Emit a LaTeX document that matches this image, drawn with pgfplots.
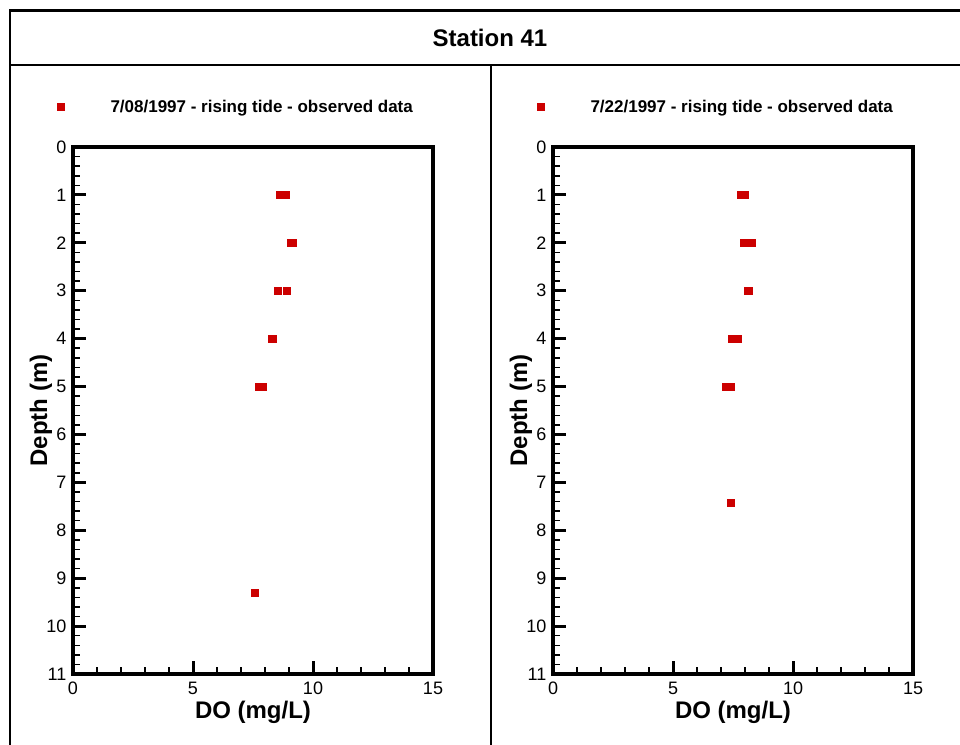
\documentclass[border=0pt]{standalone}
\usepackage{fontspec}
\setmainfont{Liberation Sans}
\usepackage{pgfplots}
\pgfplotsset{compat=1.18}

\definecolor{obsred}{RGB}{204,0,0}

% observed DO profiles: DO (mg/L), depth (m)
\pgfplotstableread{
do    depth
8.60  1.00
8.85  1.00
9.06  2.00
9.15  2.00
8.52  3.00
8.90  3.00
8.27  4.00
8.31  4.00
7.73  5.00
7.90  5.00
7.56  9.30
}\juleight

\pgfplotstableread{
do    depth
7.81  1.00
7.98  1.00
7.94  2.00
8.27  2.00
8.10  3.00
8.15  3.00
7.44  4.00
7.69  4.00
7.19  5.00
7.40  5.00
7.40  7.42
}\jultwentytwo

\pgfplotsset{
  profile/.style={
    scale only axis, width=360pt, height=527pt,
    xmin=0, xmax=15, ymin=0, ymax=11, y dir=reverse,
    xtick={0,5,10,15}, ytick={0,1,...,11},
    minor x tick num=4, minor y tick num=4,
    xtick pos=left, ytick pos=left,
    tick align=inside,
    major tick length=13pt, minor tick length=7pt,
    every tick/.style={black},
    major tick style={line width=3pt},
    minor tick style={line width=1.5pt},
    axis line style={line width=3.5pt, line join=miter},
    /pgf/number format/assume math mode=true,
    tick label style={font=\fontsize{18}{20}\selectfont},
    xticklabel style={anchor=north, inner sep=0pt, yshift=-8pt},
    yticklabel style={anchor=east, inner sep=0pt, xshift=-6.5pt},
    xlabel={DO (mg/L)}, ylabel={Depth (m)},
    label style={font=\bfseries\fontsize{24}{26}\selectfont},
    xlabel style={at={(axis description cs:0.5,-0.072)}, anchor=center},
    ylabel style={at={(axis description cs:-0.089,0.5)}, anchor=center},
    legend style={at={(axis description cs:-0.0444,1.076)}, anchor=west,
      draw=none, fill=none, inner sep=0pt,
      font=\bfseries\fontsize{17}{19}\selectfont},
    legend image code/.code={%
      \draw[##1] plot coordinates {(0pt,0pt)};
      \path[draw=none, fill=none] (0pt,0pt) -- (48pt,0pt);},
  },
  obs/.style={only marks, mark=square*, mark size=3.3pt,
    mark options={fill=obsred, draw=obsred, line width=0.4pt}},
}

\begin{document}
\begin{tikzpicture}[x=1pt, y=1pt]
  \clip (0pt,0pt) rectangle (960pt,-744pt);
  \useasboundingbox (0pt,0pt) rectangle (960pt,-744pt);

  % outer frame, title strip and panel divider
  \draw[line width=2.7pt] (10pt,-800pt) -- (10pt,-10.5pt) -- (1000pt,-10.5pt);
  \draw[line width=2.5pt] (10pt,-65pt) -- (1000pt,-65pt);
  \draw[line width=2pt] (491pt,-65pt) -- (491pt,-800pt);
  \node[font=\bfseries\fontsize{24}{26}\selectfont] at (490pt,-38pt) {Station 41};

  \begin{axis}[profile, at={(253pt,-410.5pt)}, anchor=center]
    \addplot[obs] table[x=do, y=depth] {\juleight};
    \addlegendentry{7/08/1997 - rising tide - observed data}
  \end{axis}

  \begin{axis}[profile, at={(733pt,-410.5pt)}, anchor=center]
    \addplot[obs] table[x=do, y=depth] {\jultwentytwo};
    \addlegendentry{7/22/1997 - rising tide - observed data}
  \end{axis}
\end{tikzpicture}
\end{document}
